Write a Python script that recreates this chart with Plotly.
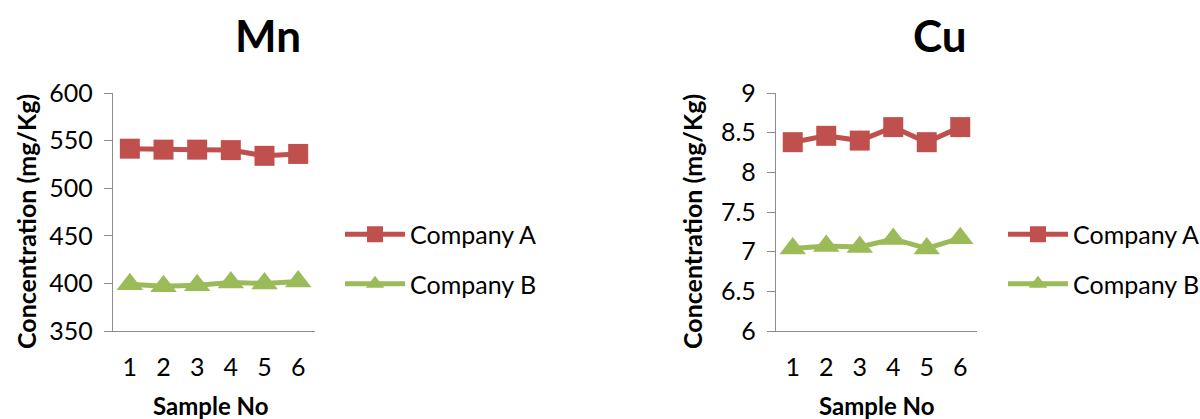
import plotly.graph_objects as go

samples = [1, 2, 3, 4, 5, 6]
mn_company_a = [541.5, 540.5, 540.5, 540, 534, 536]
mn_company_b = [399, 397, 398, 401, 400, 402]
cu_company_a = [8.38, 8.46, 8.40, 8.57, 8.38, 8.57]
cu_company_b = [7.04, 7.07, 7.06, 7.16, 7.04, 7.17]

RED = "#C0504D"
GREEN = "#9BBB59"
FONT = "Lato, 'Open Sans', sans-serif"

fig = go.Figure()

def add_pair(a_vals, b_vals, xa, ya, legend):
    fig.add_trace(go.Scatter(
        x=samples, y=a_vals, name="Company A", mode="lines+markers",
        line=dict(color=RED, width=5),
        marker=dict(symbol="square", size=20, color=RED),
        xaxis=xa, yaxis=ya, legend=legend, legendgroup=legend + "a"))
    fig.add_trace(go.Scatter(
        x=samples, y=b_vals, name="Company B", mode="lines+markers",
        line=dict(color=GREEN, width=5),
        marker=dict(symbol="triangle-up", size=23, color=GREEN),
        xaxis=xa, yaxis=ya, legend=legend, legendgroup=legend + "b"))

add_pair(mn_company_a, mn_company_b, "x", "y", "legend")
add_pair(cu_company_a, cu_company_b, "x2", "y2", "legend2")

ydom = [1 - 331 / 419, 1 - 93 / 419]

xcommon = dict(
    type="linear", range=[0.5, 6.5], tickvals=samples, showgrid=False,
    showline=True, linecolor="#8c8c8c", linewidth=1.3, zeroline=False,
    ticks="", tickfont=dict(size=25, color="black", family=FONT),
    ticklabelstandoff=14, automargin=False,
)
ycommon = dict(
    showgrid=False, showline=True, linecolor="#8c8c8c", linewidth=1.3,
    zeroline=False, ticks="outside", ticklen=8, tickcolor="#8c8c8c",
    tickfont=dict(size=25, color="black", family=FONT),
    ticklabelstandoff=6, automargin=False,
)

legend_common = dict(
    font=dict(size=25, color="black", family=FONT),
    bgcolor="rgba(0,0,0,0)", tracegroupgap=14, itemwidth=60,
    xanchor="left", yanchor="middle",
)

fig.update_layout(
    width=1200, height=419, autosize=False,
    margin=dict(l=0, r=0, t=0, b=0, pad=0, autoexpand=False),
    paper_bgcolor="white", plot_bgcolor="white",
    font=dict(family=FONT, color="black"),
    xaxis=dict(domain=[113 / 1200, 315 / 1200], anchor="y", **xcommon),
    yaxis=dict(domain=ydom, anchor="x", range=[350, 600], dtick=50, **ycommon),
    xaxis2=dict(domain=[776 / 1200, 977 / 1200], anchor="y2", **xcommon),
    yaxis2=dict(domain=ydom, anchor="x2", range=[6, 9], dtick=0.5, **ycommon),
    legend=dict(x=340 / 1200, y=1 - 259 / 419, **legend_common),
    legend2=dict(x=1003 / 1200, y=1 - 259 / 419, **legend_common),
    showlegend=True,
)

annotations = [
    dict(text="<b>Mn</b>", x=268, y=35, size=44),
    dict(text="<b>Cu</b>", x=940, y=35, size=44),
    dict(text="<b>Sample No</b>", x=210, y=405, size=24),
    dict(text="<b>Sample No</b>", x=876, y=405, size=24),
]
for a in annotations:
    fig.add_annotation(
        text=a["text"], x=a["x"] / 1200, y=1 - a["y"] / 419,
        xref="paper", yref="paper", showarrow=False,
        xanchor="center", yanchor="middle",
        font=dict(size=a["size"], color="black", family=FONT))

for xpos in (26, 692):
    fig.add_annotation(
        text="<b>Concentration (mg/Kg)</b>", x=xpos / 1200, y=1 - 222 / 419,
        xref="paper", yref="paper", showarrow=False, textangle=-90,
        xanchor="center", yanchor="middle",
        font=dict(size=25, color="black", family=FONT))

fig.write_html("out.html")
